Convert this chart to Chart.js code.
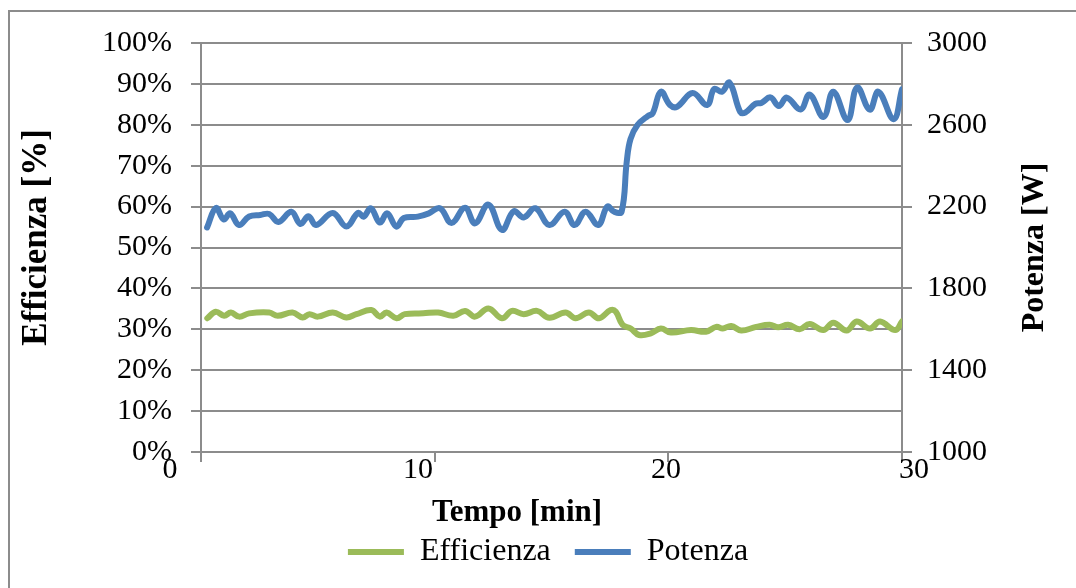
<!DOCTYPE html>
<html>
<head>
<meta charset="utf-8">
<script src="https://cdn.jsdelivr.net/npm/chart.js@4.4.0/dist/chart.umd.min.js"></script>
<style>
  html, body { margin: 0; padding: 0; background: #fff; overflow: hidden; width: 1076px; height: 588px; }
  #frame { position: absolute; left: 8px; top: 10px; width: 1100px; height: 620px; border: 2px solid #8c8c8c; box-sizing: border-box; }
  canvas { position: absolute; left: 0; top: 0; }
</style>
</head>
<body>
<div id="frame"></div>
<canvas id="c" width="1076" height="588"></canvas>
<script>
// Time axis (minutes) and measured series
const timeEff = [0.27,0.63,0.99,1.28,1.63,2.06,2.92,3.28,3.92,4.35,4.64,5.0,5.64,6.22,6.65,7.29,7.65,7.94,8.37,8.72,9.51,10.15,10.8,11.3,11.73,12.3,12.88,13.31,13.81,14.38,14.91,15.6,16.03,16.6,17.03,17.53,17.75,18.04,18.39,18.75,19.25,19.68,20.11,20.97,21.61,22.05,22.33,22.69,23.12,23.76,24.34,24.7,25.13,25.62,26.05,26.63,27.06,27.63,28.06,28.63,29.06,29.71,30.0];
const efficienza = [32.7,34.3,33.3,34.1,33.1,33.9,34.1,33.3,34.1,32.9,33.7,33.1,34.1,32.9,33.7,34.7,33.1,34.1,32.7,33.7,33.9,34.1,33.3,34.5,33.1,35.1,32.7,34.5,33.7,34.5,32.8,34.1,32.7,34.1,32.7,34.7,34.3,31.1,30.2,28.6,29.0,30.2,29.2,29.8,29.4,30.6,30.2,30.8,29.7,30.6,31.1,30.5,31.1,30.0,31.3,29.8,31.6,29.7,31.9,30.2,31.9,29.8,31.9];

const timePot = [0.26,0.64,0.97,1.25,1.63,2.06,2.54,2.92,3.31,3.87,4.25,4.6,4.92,5.64,6.22,6.72,6.96,7.27,7.65,7.97,8.36,8.68,9.28,9.75,10.23,10.72,11.3,11.73,12.3,12.88,13.38,13.81,14.31,14.91,15.56,15.99,16.46,17.0,17.39,17.68,18.0,18.22,18.38,18.68,19.12,19.33,19.68,20.07,20.37,21.04,21.66,21.96,22.3,22.62,23.08,23.29,23.72,23.98,24.37,24.73,25.07,25.66,26.05,26.64,27.06,27.67,28.08,28.62,28.99,29.64,30.0];
const potenza = [2098,2193,2137,2167,2110,2152,2159,2164,2125,2175,2115,2153,2110,2169,2103,2169,2151,2192,2122,2167,2102,2144,2151,2167,2192,2120,2194,2118,2210,2086,2177,2147,2192,2110,2175,2110,2175,2110,2200,2175,2175,2420,2530,2599,2643,2656,2762,2697,2688,2755,2697,2775,2762,2806,2662,2660,2702,2707,2734,2692,2733,2675,2748,2638,2762,2623,2783,2674,2762,2627,2773];

// Tick values and labels
const xTickValues = [0, 10, 20, 30];
const effTicks = { min: 0, max: 100, step: 10 };
const potTicks = { min: 1000, max: 3000, step: 400 };

const effLabel = 'Efficienza';
const potLabel = 'Potenza';
const xTitle = 'Tempo [min]';
const effTitle = 'Efficienza [%]';
const potTitle = 'Potenza [W]';

const SERIF = "'Liberation Serif', 'Times New Roman', serif";
const GRID = '#8c8c8c';
const GREEN = '#9bbb59';
const BLUE = '#4a7ebb';

// Axis titles: time axis below, both value axes rotated to read bottom to top
const axisTitles = {
  id: 'axisTitles',
  afterDraw(chart) {
    const ctx = chart.ctx;
    const area = chart.chartArea;
    const midY = (area.top + area.bottom) / 2;

    ctx.save();
    ctx.fillStyle = '#000';
    ctx.textAlign = 'center';
    ctx.textBaseline = 'middle';

    ctx.font = 'bold 31px ' + SERIF;
    ctx.fillText(xTitle, area.left + 316, area.bottom + 61);

    ctx.save();
    ctx.translate(37, midY - 10);
    ctx.rotate(-Math.PI / 2);
    ctx.font = 'bold 35px ' + SERIF;
    ctx.fillText(effTitle, 0, 0);
    ctx.restore();

    const s = chart.scales.y2;
    ctx.translate(s.right - 41, midY);
    ctx.rotate(-Math.PI / 2);
    ctx.font = 'bold 32px ' + SERIF;
    ctx.fillText(potTitle, 0, 0);
    ctx.restore();
  }
};

const tickFont = { family: SERIF, size: 30 };

new Chart(document.getElementById('c'), {
  type: 'line',
  data: {
    datasets: [
      {
        label: effLabel,
        data: timeEff.map((t, i) => ({ x: t, y: efficienza[i] })),
        xAxisID: 'x', yAxisID: 'y',
        borderColor: GREEN, backgroundColor: GREEN,
        borderWidth: 6, pointRadius: 0, tension: 0.4,
        borderCapStyle: 'round', borderJoinStyle: 'round'
      },
      {
        label: potLabel,
        data: timePot.map((t, i) => ({ x: t, y: potenza[i] })),
        xAxisID: 'x', yAxisID: 'y2',
        borderColor: BLUE, backgroundColor: BLUE,
        borderWidth: 6, pointRadius: 0, tension: 0.4,
        borderCapStyle: 'round', borderJoinStyle: 'round'
      }
    ]
  },
  options: {
    responsive: false,
    animation: false,
    devicePixelRatio: 1,
    layout: { padding: { top: 43, bottom: 10, left: 20, right: 0 } },
    plugins: {
      tooltip: { enabled: false },
      legend: {
        position: 'bottom',
        align: 'center',
        labels: {
          usePointStyle: true,
          pointStyle: 'line',
          pointStyleWidth: 56,
          font: { family: SERIF, size: 32 },
          color: '#000',
          padding: 24
        }
      }
    },
    scales: {
      // time axis: line and tick marks
      x: {
        type: 'linear', position: 'bottom', min: 0, max: 30, weight: 0, bounds: 'data',
        afterFit: s => { s.height = 0; },
        border: { display: true, color: GRID, width: 2 },
        grid: { drawOnChartArea: false, drawTicks: true, tickLength: 10, color: GRID, lineWidth: 2 },
        ticks: { display: false, stepSize: 10 }
      },
      // time axis: tick labels
      x2: {
        type: 'linear', position: 'bottom', min: 1.25, max: 29.516, weight: 1, bounds: 'data',
        afterBuildTicks: s => { s.ticks = xTickValues.map(v => ({ value: v })); },
        afterFit: s => { s.height = 60; },
        grid: { display: false, drawTicks: false },
        border: { display: false },
        ticks: { autoSkip: false, maxRotation: 0, padding: 0, font: tickFont, color: '#000', callback: v => String(v) }
      },
      y: {
        type: 'linear', position: 'left', min: effTicks.min, max: effTicks.max, bounds: 'data',
        afterFit: s => { s.width = 181; },
        ticks: { stepSize: effTicks.step, autoSkip: false, callback: v => v + '%', font: tickFont, color: '#000', padding: 19 },
        grid: { color: GRID, lineWidth: 2, tickLength: 10 },
        border: { color: GRID, width: 2 }
      },
      y2: {
        type: 'linear', position: 'right', min: potTicks.min, max: potTicks.max, bounds: 'data',
        afterFit: s => { s.width = 174; },
        ticks: { stepSize: potTicks.step, autoSkip: false, callback: v => String(v), font: tickFont, color: '#000', padding: 15 },
        grid: { drawOnChartArea: false, color: GRID, lineWidth: 2, tickLength: 10 },
        border: { color: GRID, width: 2 }
      }
    }
  },
  plugins: [axisTitles]
});
</script>
</body>
</html>
